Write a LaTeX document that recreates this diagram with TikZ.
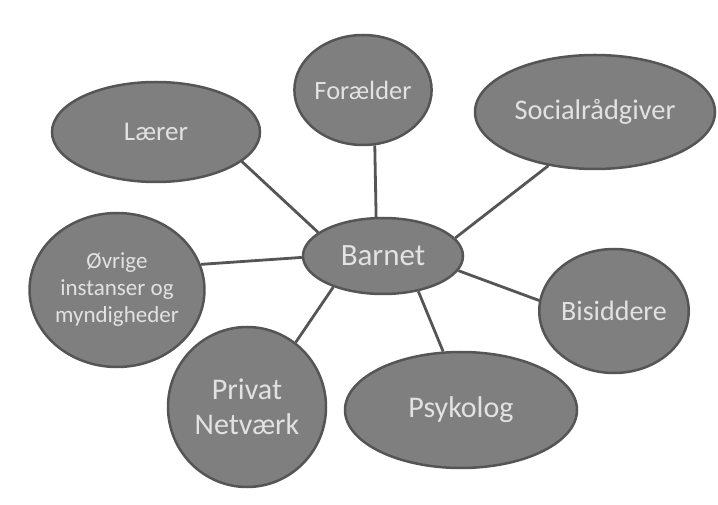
\documentclass[tikz,border=0pt]{standalone}
\usepackage{fontspec}
\setmainfont{Carlito}
\usetikzlibrary{shapes.geometric}
\definecolor{nodefill}{HTML}{7F7F7F}
\definecolor{edgecol}{HTML}{555555}
\definecolor{txtcol}{HTML}{E2E2E2}
\tikzset{
  bubble/.style={ellipse, draw=edgecol, fill=nodefill, line width=2.5pt,
    text=txtcol, inner sep=0pt, align=center},
  link/.style={draw=edgecol, line width=2.8pt}
}
\begin{document}
\begin{tikzpicture}[x=1pt,y=1pt]
\useasboundingbox (0,0) rectangle (718,504);
\node[bubble, minimum width=160pt, minimum height=76pt, font=\fontsize{31}{37}\selectfont] (barnet) at (383,248) {Barnet};
\node[bubble, minimum width=130pt, minimum height=110pt, font=\fontsize{26.4}{32}\selectfont] (forae) at (363,414) {Forælder};
\node[bubble, minimum width=208pt, minimum height=100pt, font=\fontsize{27}{32}\selectfont] (laerer) at (156,372) {Lærer};
\node[bubble, minimum width=240pt, minimum height=114pt, font=\fontsize{28.4}{34}\selectfont] (social) at (595,392) {Socialrådgiver};
\node[bubble, minimum width=164pt, minimum height=154pt, font=\fontsize{23}{27}\selectfont] (ovrige) at (117,214) {Øvrige\\instanser og\\myndigheder};
\node[bubble, minimum width=138pt, minimum height=124pt, font=\fontsize{28}{34}\selectfont] (bisid) at (614,193) {Bisiddere};
\node[bubble, minimum width=158pt, minimum height=160pt, font=\fontsize{30}{35}\selectfont] (privat) at (247,97) {Privat\\Netværk};
\node[bubble, minimum width=232pt, minimum height=116pt, font=\fontsize{30}{36}\selectfont] (psyk) at (461,94) {Psykolog};
\draw[link] (barnet.100) -- (forae.282);
\draw[link] (barnet.160) -- (laerer.341);
\draw[link] (barnet.181) -- (ovrige.17);
\draw[link] (barnet.212) -- (privat.53);
\draw[link] (barnet.14) -- (social.229.5);
\draw[link] (barnet.349) -- (bisid.172);
\draw[link] (barnet.315) -- (psyk.107);
\end{tikzpicture}
\end{document}
